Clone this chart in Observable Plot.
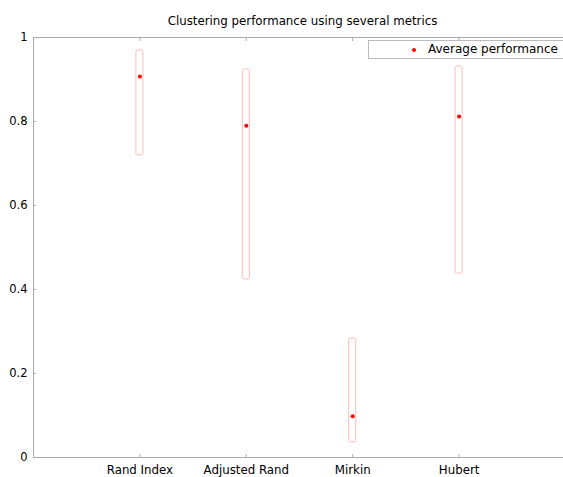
<!DOCTYPE html>
<html>
<head>
<meta charset="utf-8">
<script src="https://cdn.jsdelivr.net/npm/d3@7"></script>
<script src="https://cdn.jsdelivr.net/npm/@observablehq/plot@0.6"></script>
<style>
  body { margin: 0; background: #fff; }
  #wrap { position: relative; width: 563px; height: 477px; overflow: hidden; font-family: "DejaVu Sans", sans-serif; }
  #legend { position: absolute; left: 368px; top: 40px; width: 200px; height: 17px; border: 1px solid #bbb; background: #fff; font-size: 12px; color: #000; }
  #legend .dot { position: absolute; left: 43px; top: 7px; width: 4px; height: 4px; border-radius: 50%; background: #f00; }
  #legend .lab { position: absolute; left: 59px; top: 1px; white-space: nowrap; }
</style>
</head>
<body>
<div id="wrap"></div>
<script>
const title = "Clustering performance using several metrics";
const categories = ["Rand Index", "Adjusted Rand", "Mirkin", "Hubert"];
const lows = [0.719, 0.424, 0.036, 0.438];
const highs = [0.969, 0.924, 0.283, 0.931];
const means = [0.907, 0.790, 0.098, 0.812];
const yTicks = [0, 0.2, 0.4, 0.6, 0.8, 1];
const legendLabel = "Average performance";

const data = categories.map((c, i) => ({cat: c, pos: i + 1, lo: lows[i], hi: highs[i], mean: means[i]}));
const hw = 0.033;

const chart = Plot.plot({
  width: 563,
  height: 477,
  marginLeft: 33,
  marginTop: 37,
  marginBottom: 20,
  marginRight: -2,
  style: {fontFamily: "DejaVu Sans, sans-serif", fontSize: "11px", background: "#fff", color: "#000", overflow: "visible"},
  x: {domain: [0, 5]},
  y: {domain: [0, 1]},
  marks: [
    Plot.ruleY([0, 1], {stroke: "#aaa"}),
    Plot.ruleX([0], {stroke: "#aaa"}),
    Plot.axisY({ticks: yTicks, tickSize: -3, stroke: "#aaa", tickPadding: 9, label: null,
      tickFormat: d => (d === 0 || d === 1) ? String(d) : d.toFixed(1), fontSize: 11.5, fill: "#000"}),
    Plot.axisY({anchor: "right", ticks: yTicks, tickSize: -3, stroke: "#aaa", label: null, tickFormat: () => ""}),
    Plot.axisX({anchor: "bottom", ticks: data.map(d => d.pos), tickSize: -3, stroke: "#aaa", tickPadding: 11, label: null,
      tickFormat: p => categories[p - 1], fontSize: 11.8, fill: "#000"}),
    Plot.axisX({anchor: "top", ticks: data.map(d => d.pos), tickSize: -3, stroke: "#aaa", label: null, tickFormat: () => ""}),
    Plot.rect(data, {x1: d => d.pos - hw, x2: d => d.pos + hw, y1: "lo", y2: "hi", fill: "none", stroke: "#ffbcbc", strokeWidth: 1, rx: 1.5}),
    Plot.dot(data, {x: "pos", y: "mean", r: 2, fill: "#f00", stroke: "none"}),
    Plot.text([title], {frameAnchor: "top", dx: 3, dy: -21, fontSize: 11.8, fill: "#000"})
  ]
});
const wrap = document.getElementById("wrap");
wrap.appendChild(chart);
const lg = document.createElement("div");
lg.id = "legend";
lg.innerHTML = `<span class="dot"></span><span class="lab">${legendLabel}</span>`;
wrap.appendChild(lg);
</script>
</body>
</html>
